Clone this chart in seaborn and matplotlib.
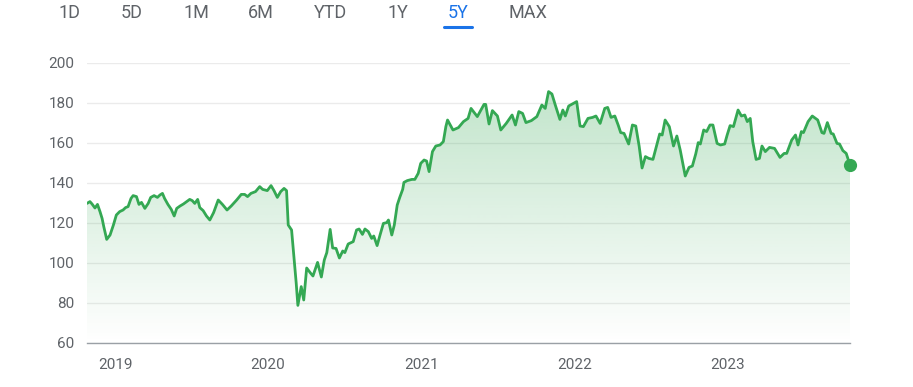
import matplotlib
matplotlib.use("Agg")
import numpy as np
import pandas as pd
import seaborn as sns
import matplotlib.pyplot as plt
import matplotlib.dates as mdates
from matplotlib.colors import to_rgb
from matplotlib.lines import Line2D

# weekly-ish closes
dates = [
    "2018-10-26", "2018-11-02", "2018-11-07", "2018-11-14", "2018-11-20", "2018-11-26",
    "2018-12-01", "2018-12-05", "2018-12-12", "2018-12-20", "2018-12-28", "2019-01-04",
    "2019-01-12", "2019-01-20", "2019-01-26", "2019-02-01", "2019-02-08", "2019-02-13",
    "2019-02-21", "2019-02-27", "2019-03-05", "2019-03-13", "2019-03-21", "2019-03-27",
    "2019-04-04", "2019-04-12", "2019-04-18", "2019-04-24", "2019-04-29", "2019-05-07",
    "2019-05-15", "2019-05-22", "2019-05-28", "2019-06-05", "2019-06-13", "2019-06-21",
    "2019-06-28", "2019-07-04", "2019-07-10", "2019-07-17", "2019-07-22", "2019-07-30",
    "2019-08-07", "2019-08-15", "2019-08-24", "2019-09-04", "2019-09-14", "2019-09-25",
    "2019-10-05", "2019-10-18", "2019-10-29", "2019-11-06", "2019-11-13", "2019-11-21",
    "2019-12-02", "2019-12-12", "2019-12-19", "2019-12-30", "2020-01-08", "2020-01-15",
    "2020-01-23", "2020-01-31", "2020-02-08", "2020-02-14", "2020-02-18", "2020-02-26",
    "2020-03-03", "2020-03-08", "2020-03-12", "2020-03-20", "2020-03-26", "2020-04-02",
    "2020-04-11", "2020-04-17", "2020-04-28", "2020-05-07", "2020-05-14", "2020-05-20",
    "2020-05-28", "2020-06-03", "2020-06-11", "2020-06-19", "2020-06-27", "2020-07-02",
    "2020-07-10", "2020-07-22", "2020-07-30", "2020-08-05", "2020-08-13", "2020-08-19",
    "2020-08-27", "2020-09-04", "2020-09-09", "2020-09-17", "2020-09-24", "2020-10-02",
    "2020-10-10", "2020-10-14", "2020-10-22", "2020-10-28", "2020-11-04", "2020-11-10",
    "2020-11-17", "2020-11-20", "2020-11-28", "2020-12-09", "2020-12-16", "2020-12-24",
    "2020-12-30", "2021-01-07", "2021-01-13", "2021-01-19", "2021-01-27", "2021-02-04",
    "2021-02-14", "2021-02-22", "2021-02-28", "2021-03-04", "2021-03-17", "2021-03-30",
    "2021-04-11", "2021-04-22", "2021-04-29", "2021-05-14", "2021-05-30", "2021-06-03",
    "2021-06-11", "2021-06-19", "2021-07-01", "2021-07-09", "2021-07-22", "2021-08-05",
    "2021-08-13", "2021-08-21", "2021-08-30", "2021-09-07", "2021-09-20", "2021-10-03",
    "2021-10-15", "2021-10-23", "2021-10-31", "2021-11-08", "2021-11-16", "2021-11-27",
    "2021-12-04", "2021-12-10", "2021-12-18", "2022-01-06", "2022-01-14", "2022-01-22",
    "2022-02-02", "2022-02-13", "2022-02-21", "2022-03-03", "2022-03-14", "2022-03-21",
    "2022-03-29", "2022-04-07", "2022-04-15", "2022-04-21", "2022-04-29", "2022-05-10",
    "2022-05-19", "2022-05-27", "2022-06-04", "2022-06-11", "2022-06-19", "2022-06-27",
    "2022-07-07", "2022-07-17", "2022-07-23", "2022-07-29", "2022-08-05", "2022-08-15",
    "2022-08-25", "2022-09-02", "2022-09-10", "2022-09-22", "2022-10-01", "2022-10-09",
    "2022-10-17", "2022-10-23", "2022-10-28", "2022-11-05", "2022-11-12", "2022-11-20",
    "2022-11-27", "2022-12-07", "2022-12-15", "2022-12-25", "2022-12-31", "2023-01-07",
    "2023-01-15", "2023-01-26", "2023-02-03", "2023-02-11", "2023-02-17", "2023-02-24",
    "2023-03-02", "2023-03-10", "2023-03-18", "2023-03-24", "2023-04-01", "2023-04-11",
    "2023-04-23", "2023-05-06", "2023-05-16", "2023-05-22", "2023-06-03", "2023-06-12",
    "2023-06-18", "2023-06-26", "2023-07-01", "2023-07-12", "2023-07-22", "2023-08-04",
    "2023-08-14", "2023-08-19", "2023-08-27", "2023-09-05", "2023-09-10", "2023-09-19",
    "2023-09-25", "2023-10-03", "2023-10-11", "2023-10-20",
]
prices = [
    129.8, 130.7, 129.5, 127.5, 129.3, 125.7,
    122.3, 118.2, 111.8, 114.0, 119.0, 124.0,
    125.7, 126.5, 127.7, 128.2, 132.3, 133.7,
    133.2, 129.3, 130.3, 127.3, 129.8, 132.8,
    133.7, 132.8, 134.0, 134.8, 132.3, 129.3,
    126.8, 123.5, 127.3, 128.5, 129.5, 130.7,
    131.8, 131.2, 129.8, 131.8, 127.7, 126.2,
    123.5, 121.5, 125.2, 131.5, 129.3, 126.5,
    128.5, 131.5, 134.3, 134.3, 133.2, 134.8,
    135.7, 138.2, 136.8, 136.2, 138.7, 136.2,
    132.8, 135.7, 137.3, 136.2, 119.0, 116.5,
    102.0, 90.0, 78.8, 88.2, 81.5, 97.5,
    95.0, 93.5, 100.3, 93.0, 101.5, 105.2,
    116.8, 107.5, 107.3, 102.5, 106.0, 105.2,
    109.5, 110.7, 116.5, 117.0, 114.3, 117.0,
    115.7, 112.3, 113.5, 108.7, 114.0, 119.8,
    120.2, 121.5, 114.0, 119.0, 129.0, 132.8,
    136.8, 140.3, 141.2, 141.8, 141.8, 144.8,
    149.8, 151.5, 151.0, 145.7, 155.7, 158.5,
    159.0, 160.7, 168.2, 171.5, 166.5, 167.7,
    170.7, 172.3, 177.3, 173.2, 179.3, 179.3,
    169.5, 176.2, 173.5, 166.5, 169.8, 174.0,
    169.0, 175.7, 174.8, 170.2, 171.2, 173.2,
    179.0, 177.3, 185.7, 184.5, 179.0, 171.8,
    176.5, 173.5, 178.5, 180.7, 168.5, 168.2,
    172.3, 172.8, 173.5, 169.8, 177.3, 177.8,
    172.8, 173.5, 169.0, 165.2, 164.8, 159.5,
    169.0, 168.5, 158.5, 147.5, 153.2, 152.3,
    151.8, 159.8, 164.5, 164.0, 171.5, 168.2,
    158.5, 163.5, 156.5, 143.5, 147.8, 148.5,
    154.5, 160.2, 159.5, 166.5, 165.7, 169.0,
    169.0, 159.8, 159.0, 159.5, 164.0, 168.7,
    168.2, 176.5, 173.5, 174.0, 170.7, 172.3,
    160.7, 151.8, 152.3, 158.5, 155.7, 157.8,
    157.3, 152.8, 154.8, 154.8, 161.5, 164.0,
    159.0, 165.7, 165.2, 170.7, 173.5, 171.5,
    165.2, 164.8, 170.2, 164.8, 164.5, 159.8,
    159.5, 156.2, 154.8, 149.0,
]
ranges = ["1D", "5D", "1M", "6M", "YTD", "1Y", "5Y", "MAX"]
selected_range = "5Y"
year_labels = ["2019", "2020", "2021", "2022", "2023"]
y_ticks = [60, 80, 100, 120, 140, 160, 180, 200]

df = pd.DataFrame({"date": pd.to_datetime(dates), "price": prices})

sns.set_style("white")
plt.rcParams["font.family"] = ["Roboto", "DejaVu Sans"]

W, H = 913, 387
green = "#34a853"
grey = "#5f6368"
blue = "#1a73e8"

fig = plt.figure(figsize=(W / 100, H / 100), dpi=100)
ax = fig.add_axes([87 / W, (H - 343) / H, (850 - 87) / W, (343 - 63) / H])

sns.lineplot(data=df, x="date", y="price", color=green, linewidth=2.0, ax=ax, zorder=3,
             solid_joinstyle="round")

# gradient under the line, clipped to the area polygon
area = ax.fill_between(df["date"], df["price"], 60, color="none", lw=0)
x0 = mdates.date2num(df["date"].iloc[0])
x1 = mdates.date2num(df["date"].iloc[-1])
grad = np.zeros((256, 1, 4))
grad[..., :3] = to_rgb(green)
grad[:, 0, 3] = np.linspace(0.30, 0.0, 256)
img = ax.imshow(grad, extent=[x0, x1, 60, df["price"].max()], aspect="auto",
                origin="upper", zorder=1)
img.set_clip_path(area.get_paths()[0], transform=ax.transData)

# last price dot
last = df.iloc[-1]
ax.scatter([last["date"]], [last["price"]], s=72, color=green, zorder=4, clip_on=False)

ax.set_xlim(x0, x1)
ax.set_ylim(60, 200)
ax.set(xlabel="", ylabel="")
ax.set_yticks(y_ticks)
ax.set_xticks(pd.to_datetime([f"{y}-01-01" for y in year_labels]))
ax.set_xticklabels(year_labels)
ax.set_axisbelow(True)
ax.yaxis.grid(True, color="#ebebeb", lw=1)
ax.xaxis.grid(False)
for s in ["top", "right", "left"]:
    ax.spines[s].set_visible(False)
ax.spines["bottom"].set_color("#9aa0a6")
ax.spines["bottom"].set_linewidth(1)
ax.tick_params(axis="x", length=4, width=2, color=grey, labelsize=11,
               labelcolor=grey, pad=7, direction="out")
ax.tick_params(axis="y", length=0, labelsize=11, labelcolor=grey, pad=9)

# range selector row
range_x = [70, 132, 196, 261, 331, 398, 458, 528]
for label, px in zip(ranges, range_x):
    col = blue if label == selected_range else grey
    fig.text(px / W, 1 - 13 / H, label, ha="center", va="center",
             fontsize=13, color=col)
fig.add_artist(Line2D([444 / W, 472 / W], [1 - 27 / H, 1 - 27 / H], lw=2.2,
                      color=blue, solid_capstyle="round"))

fig.savefig("out.png", dpi=100)
